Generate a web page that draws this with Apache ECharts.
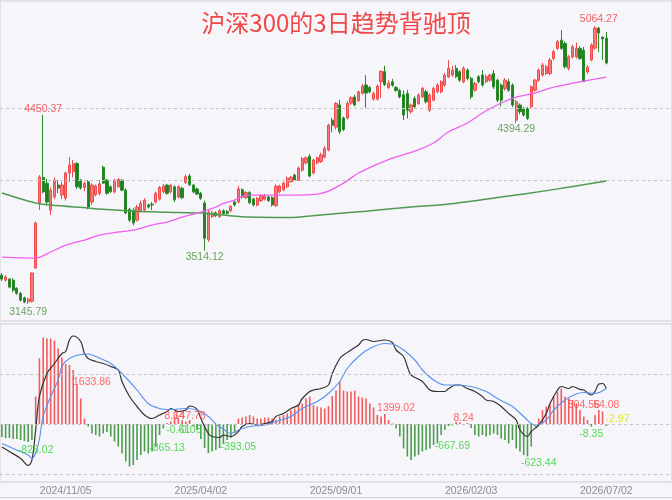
<!DOCTYPE html>
<html>
<head>
<meta charset="utf-8">
<script src="https://cdn.jsdelivr.net/npm/echarts/dist/echarts.min.js"></script>
<style>
html,body{margin:0;padding:0;background:#f5f5fa}
#main{width:672px;height:500px}
</style>
</head>
<body>
<div id="main"></div>
<script>
// 3日K线 [开, 收, 低, 高]
const candles = [
  [3346,3318,3305,3360],[3311,3332,3300,3345],[3318,3263,3255,3325],[3311,3242,3228,3325],
  [3255,3220,3210,3262],[3220,3173,3165,3228],[3190,3160,3152,3197],[3162,3180,3145.79,3190],
  [3165,3360,3155,3365],[3395,3705,3390,3715],[3845,4022,3794,4035],[4020,3920,3910,4450.37],
  [3980,3850,3830,4010],[3794,3932,3760,3950],[3885,4001,3870,4020],[3967,3946,3910,4001],
  [3898,3967,3870,3990],[3877,4050,3860,4060],[4050,4105,3990,4160],[4060,4115,4020,4140],
  [4115,3955,3940,4125],[4001,3946,3935,4010],[3950,3978,3925,3990],[3990,3815,3800,4000],
  [3850,3967,3830,3980],[3900,3960,3890,3970],[3910,3975,3895,4000],[4090,3980,3975,4100],
  [4001,3910,3900,4010],[3955,3920,3915,3965],[3920,4001,3910,4010],[3955,4005,3950,4015],
  [4001,3932,3925,4010],[3932,3775,3765,3945],[3800,3725,3710,3810],[3794,3705,3690,3810],
  [3725,3815,3715,3830],[3790,3840,3780,3860],[3795,3863,3785,3875],[3830,3815,3805,3840],
  [3835,3830,3794,3850],[3850,3910,3840,3920],[3870,3950,3860,3960],[3920,3960,3910,3975],
  [3967,3910,3900,3975],[3920,3965,3910,3975],[3955,3865,3850,3965],[3885,3955,3875,3965],
  [3945,3880,3870,3955],[3985,4025,3975,4040],[4030,3970,3960,4045],[3967,3920,3910,3975],
  [3940,3905,3898,3950],[3910,3875,3865,3920],[3843,3600,3514.12,3860],[3590,3780,3575,3795],
  [3750,3775,3740,3790],[3775,3755,3745,3785],[3750,3790,3740,3800],[3790,3770,3760,3800],
  [3785,3772,3762,3795],[3790,3820,3780,3828],[3850,3830,3820,3860],[3850,3940,3840,3960],
  [3935,3885,3875,3945],[3880,3915,3870,3925],[3915,3845,3835,3925],[3870,3830,3820,3880],
  [3830,3875,3820,3885],[3860,3895,3850,3905],[3870,3890,3860,3905],[3885,3860,3850,3895],
  [3880,3830,3820,3890],[3825,3960,3815,3970],[3920,3960,3910,3970],[3935,3980,3925,3990],
  [3955,4015,3945,4025],[3990,4020,3985,4030],[4036,4001,3995,4045],[4001,4084,3995,4095],
  [4070,4150,4060,4160],[4120,4155,4110,4165],[4165,4030,4020,4180],[4050,4140,4040,4150],
  [4120,4155,4110,4165],[4130,4175,4120,4190],[4160,4220,4150,4235],[4208,4380,4200,4390],
  [4415,4380,4330,4430],[4367,4530,4350,4540],[4520,4335,4320,4555],[4430,4350,4340,4440],
  [4430,4530,4420,4545],[4533,4570,4520,4580],[4575,4520,4510,4590],[4550,4610,4540,4620],
  [4600,4650,4590,4665],[4657,4602,4500,4725],[4640,4610,4600,4650],[4560,4600,4550,4610],
  [4560,4650,4550,4660],[4680,4750,4567,4760],[4750,4660,4650,4790],[4640,4670,4630,4690],
  [4680,4655,4645,4700],[4640,4620,4610,4650],[4620,4575,4565,4630],[4590,4450,4415,4620],
  [4599,4484,4427,4622],[4473,4519,4460,4530],[4565,4507,4495,4580],[4530,4588,4520,4600],
  [4576,4634,4565,4645],[4611,4542,4530,4625],[4484,4588,4470,4600],[4553,4634,4545,4645],
  [4611,4657,4600,4670],[4611,4680,4600,4690],[4657,4726,4645,4740],[4714,4772,4705,4829],
  [4726,4760,4715,4790],[4772,4714,4705,4795],[4749,4691,4680,4760],[4680,4772,4670,4785],
  [4760,4703,4690,4772],[4703,4576,4560,4715],[4622,4668,4610,4680],[4714,4680,4670,4725],
  [4726,4657,4645,4760],[4680,4715,4670,4730],[4691,4726,4680,4735],[4737,4645,4630,4760],
  [4691,4553,4540,4700],[4657,4553,4510,4668],[4634,4691,4620,4705],[4680,4622,4610,4700],
  [4657,4519,4505,4668],[4415,4542,4394.29,4555],[4519,4473,4455,4530],[4496,4450,4440,4507],
  [4496,4427,4415,4505],[4507,4645,4495,4655],[4622,4691,4610,4700],[4691,4760,4680,4772],
  [4726,4795,4715,4810],[4737,4783,4725,4795],[4737,4829,4725,4845],[4841,4887,4830,4900],
  [4910,4956,4900,4970],[4967,4910,4900,5036],[4944,4783,4770,4960],[4772,4852,4760,4865],
  [4852,4921,4840,4935],[4852,4910,4840,4950],[4910,4841,4830,4925],[4898,4680,4678,4920],
  [4747,4780,4735,4795],[4830,4933,4820,4945],[4912,5050,4900,5064.27],[5050,5016,4885,5059],
  [4988,4975,4830,4990],[4981,4809,4800,5023]
];

// 均线 [序号, 值]
const ma60 = [[0,3470],[9,3463],[13,3505],[17,3553],[22,3587],[26,3622],[31,3643],[35,3656],
  [40,3691],[44,3712],[48,3746],[53,3781],[57,3815],[59,3840],[62,3863],[64,3890],[66,3898],
  [77,3898],[84,3905],[87,3925],[91,3980],[95,4050],[99,4100],[104,4153],[110,4201],[115,4257],
  [119,4335],[124,4395],[128,4464],[133,4533],[137,4574],[142,4602],[146,4636],[151,4664],
  [155,4684],[161,4712]];
const ma250 = [[0,3912],[9,3843],[13,3829],[23,3808],[26,3801],[35,3787],[44,3780],[53,3774],
  [59,3760],[66,3746],[77,3743],[82,3753],[88,3767],[97,3787],[109,3815],[119,3836],
  [133,3884],[146,3932],[161,3995]];

// MACD 柱
const macdHist = [
  -26,-28,-28,-30,-30,-32,-34,-36,-32,
  55,131,173,171,171,167,151,133,120,118,108,78,51,11,
  -5,-19,-22,-25,-19,-16,-25,-35,-45,-59,-75,-85,-82,-72,-62,-55,-59,-55,-45,-22,-9,
  2,5,14,11,8,5,8,
  -5,-12,-30,-48,-58,-55,-52,-48,-40,-32,-28,-18,
  11,13,15,18,15,11,11,13,13,11,8,15,18,21,28,31,38,41,51,55,38,35,33,31,36,56,67,85,
  67,65,65,67,55,53,51,41,33,18,15,20,8,1,
  -9,-25,-49,-65,-72,-65,-62,-55,-52,-49,-42,-39,-22,-12,-4,-3,
  4,3,-2,2,
  -8,-22,-25,-22,-25,-22,-19,-22,-29,-32,-39,-32,-49,-55,-62,-65,-45,-5,
  11,28,35,41,55,65,71,55,51,48,41,28,15,8,
  -5,18,28,25,-4
];
const difLine = [[0,-46],[2,-55],[5,-69],[7,-83],[8,-72],[9,-12],[10,55],[12,101],[14,121],
  [16,141],[17,145],[18,168],[19,176],[21,165],[22,141],[23,131],[25,125],[27,121],[29,115],
  [31,108],[32,85],[34,55],[36,35],[38,18],[40,11],[42,18],[44,25],[45,31],[47,25],[49,28],
  [50,36],[52,29],[53,11],[55,-19],[56,-25],[58,-27],[59,-22],[61,-25],[63,-15],[64,-5],
  [66,1],[68,-2],[70,1],[72,5],[73,15],[75,21],[77,31],[79,38],[80,51],[82,65],[83,68],
  [85,71],[87,78],[88,101],[90,131],[91,138],[93,148],[95,158],[96,167],[97,169],[99,165],
  [102,168],[104,163],[105,148],[107,135],[108,115],[109,98],[112,85],[114,68],[116,65],
  [118,65],[119,71],[121,78],[122,78],[124,71],[126,65],[128,55],[129,48],[131,45],[133,35],
  [135,21],[137,8],[138,-12],[140,-25],[141,-15],[143,-2],[145,21],[146,41],[148,68],
  [149,75],[151,71],[152,75],[154,69],[155,68],[157,58],[158,65],[159,80],[160,81],[161,71]];
const deaLine = [[0,-39],[3,-49],[7,-62],[8,-69],[9,-58],[10,-30],[11,15],[13,55],[15,88],
  [16,115],[18,131],[21,139],[23,140],[25,135],[29,121],[32,101],[36,68],[39,41],[42,31],
  [45,29],[49,31],[52,28],[55,15],[57,0],[59,-10],[61,-19],[63,-12],[66,-5],[70,-2],[73,5],
  [77,15],[80,31],[84,45],[87,61],[90,85],[92,111],[95,135],[98,151],[102,161],[104,160],
  [107,148],[110,128],[112,108],[115,88],[118,78],[121,78],[125,75],[129,65],[132,51],
  [136,35],[139,15],[142,-2],[145,8],[147,28],[150,48],[153,60],[155,63],[158,61],[161,71]];

// 日期刻度
const tickIdx = [17, 53, 89, 125, 161];
const tickText = ['2024/11/05', '2025/04/02', '2025/09/01', '2026/02/03', '2026/07/02'];

// 标注 [序号, 值, 文本, 类型 0跌 1涨 2其它]
const priceNotes = [[11,4491,'4450.37',1],[7,3091,'3145.79',0],[54,3470,'3514.12',0],
  [137,4353,'4394.29',0],[159,5112,'5064.27',1]];
const macdNotes = [[9,-52,'-826.02',0],[24,84,'1633.86',1],[46,16,'8.64',1],[50,16,'147.78',1],
  [47,-12,'-0.61',0],[50,-12,'-0.05',0],[44,-48,'-865.13',0],[63,-46,'-393.05',0],
  [105,32,'1399.02',1],[123,12,'8.24',1],[120,-44,'-667.69',0],[143,-78,'-623.44',0],
  [155,38,'504.56',1],[161,38,'54.08',1],[157,-20,'-8.35',0],[164,10,'-2.97',2]];

const slots = 179;
const cats = Array.from({length: slots}, (_, i) => String(i));

const priceColors = ['#4b8b3b', '#f03c3c'];
const macdColors = ['#2fd12f', '#ff4545', '#e0e000'];
const noteFont = 'Liberation Sans';

var myChart = echarts.init(document.getElementById('main'));

const dashed = {type: [3, 3], color: '#c4c4c4', width: 1};
const clear = 'rgba(0,0,0,0)';

const option = {
  animation: false,
  backgroundColor: '#f5f5fa',
  title: {
    text: '沪深300的3日趋势背驰顶',
    left: 'center',
    top: 6,
    textStyle: {color: '#f04848', fontSize: 24, fontWeight: 'normal', fontFamily: 'Noto Sans CJK SC'}
  },
  grid: [
    {left: 0, right: 0, top: 1, height: 320, show: true, borderColor: '#cfcfcf', borderWidth: 1, outerBoundsMode: 'none'},
    {left: 0, right: 0, top: 324, height: 158, show: true, borderColor: '#cfcfcf', borderWidth: 1, outerBoundsMode: 'none'}
  ],
  xAxis: [
    {type: 'category', gridIndex: 0, data: cats, boundaryGap: true,
      axisLine: {show: false}, axisTick: {show: false}, axisLabel: {show: false}, splitLine: {show: false}},
    {type: 'category', gridIndex: 1, data: cats, boundaryGap: true,
      axisLine: {show: false}, axisTick: {show: false}, splitLine: {show: false},
      axisLabel: {
        show: true, margin: 4, color: '#8c8c8c', fontSize: 10.5, fontFamily: noteFont,
        interval: (index) => tickIdx.indexOf(index) >= 0,
        formatter: (val) => tickText[tickIdx.indexOf(+val)] || ''
      }}
  ],
  yAxis: [
    {type: 'value', gridIndex: 0, min: 3029, max: 5237, show: false, splitLine: {show: false}},
    {type: 'value', gridIndex: 1, min: -116, max: 200, show: false, splitLine: {show: false}}
  ],
  graphic: [
    {type: 'line', shape: {x1: 0, y1: 497.5, x2: 672, y2: 497.5}, style: {stroke: '#cfcfcf', lineWidth: 1}}
  ],
  series: [
    {
      type: 'candlestick', xAxisIndex: 0, yAxisIndex: 0, data: candles, barWidth: '72%',
      itemStyle: {color: '#f77b7b', color0: '#1f7f1f', borderColor: '#f04a4a', borderColor0: '#2a8a2a', borderWidth: 1},
      markLine: {symbol: 'none', silent: true, label: {show: false}, lineStyle: dashed,
        data: [{yAxis: 4500}, {yAxis: 4000}]}
    },
    {type: 'line', xAxisIndex: 0, yAxisIndex: 0, data: ma250, showSymbol: false, smooth: 0.3,
      lineStyle: {color: '#4f9a4f', width: 1.5}, z: 3},
    {type: 'line', xAxisIndex: 0, yAxisIndex: 0, data: ma60, showSymbol: false, smooth: 0.3,
      lineStyle: {color: '#f060f0', width: 1.3}, z: 3},
    {
      type: 'scatter', xAxisIndex: 0, yAxisIndex: 0, symbolSize: 1, itemStyle: {color: clear}, z: 5,
      data: priceNotes.map(n => ({value: [n[0], n[1]], name: n[2],
        label: {show: true, color: priceColors[n[3]]}})),
      label: {show: true, position: 'inside', fontSize: 10.5, fontFamily: noteFont, formatter: p => p.name}
    },
    {
      type: 'bar', xAxisIndex: 1, yAxisIndex: 1, data: macdHist, barWidth: 1.6,
      itemStyle: {color: p => p.value >= 0 ? '#f25c5c' : '#4c9c4c'},
      markLine: {symbol: 'none', silent: true, label: {show: false}, lineStyle: dashed,
        data: [{yAxis: 100}, {yAxis: 0}, {yAxis: -100}]}
    },
    {type: 'line', xAxisIndex: 1, yAxisIndex: 1, data: difLine, showSymbol: false, smooth: 0.35,
      lineStyle: {color: '#333333', width: 1.2}, z: 3},
    {type: 'line', xAxisIndex: 1, yAxisIndex: 1, data: deaLine, showSymbol: false, smooth: 0.35,
      lineStyle: {color: '#5b8ff0', width: 1.1}, z: 3},
    {
      type: 'scatter', xAxisIndex: 1, yAxisIndex: 1, symbolSize: 1, itemStyle: {color: clear}, z: 5,
      data: macdNotes.map(n => ({value: [n[0], n[1]], name: n[2],
        label: {show: true, color: macdColors[n[3]]}})),
      label: {show: true, position: 'inside', fontSize: 10.5, fontFamily: noteFont, formatter: p => p.name}
    }
  ]
};

myChart.setOption(option);
</script>
</body>
</html>
